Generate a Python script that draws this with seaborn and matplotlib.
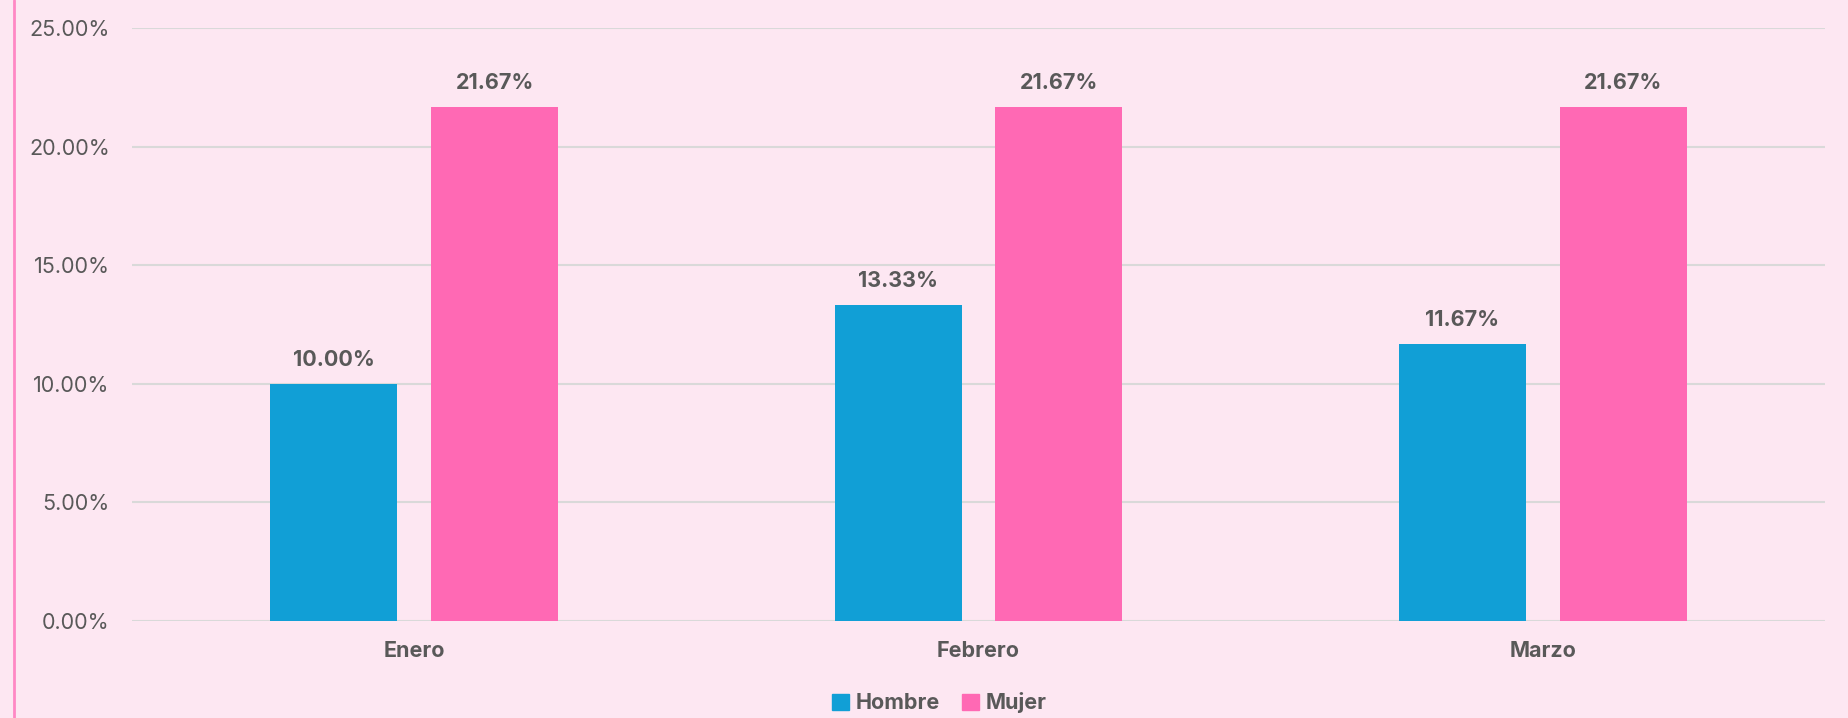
import numpy as np
import pandas as pd
import seaborn as sns
import matplotlib.pyplot as plt
from matplotlib.lines import Line2D
from matplotlib.ticker import FuncFormatter

# Data
meses = ['Enero', 'Febrero', 'Marzo']
hombre = [10.00, 13.33, 11.67]
mujer = [21.67, 21.67, 21.67]

df = pd.DataFrame({
    'Mes': meses * 2,
    'Sexo': ['Hombre'] * 3 + ['Mujer'] * 3,
    'Valor': hombre + mujer,
})

bg = '#FDE7F2'
txt = '#595959'
colors = {'Hombre': '#119FD6', 'Mujer': '#FF69B4'}

sns.set_style('white')
plt.rcParams['font.family'] = ['Inter', 'DejaVu Sans']

fig = plt.figure(figsize=(18.49, 7.18), dpi=100, facecolor=bg)
ax = fig.add_axes([0.0714, 0.135, 0.9156, 0.826])
ax.set_facecolor(bg)

sns.barplot(data=df, x='Mes', y='Valor', hue='Sexo', palette=colors,
            width=0.57, gap=0.21, saturation=1, linewidth=0, ax=ax, legend=False)

ax.set_ylim(0, 25)
ax.set_xlim(-0.5, 2.5)
ax.set_yticks(np.arange(0, 26, 5))
ax.yaxis.set_major_formatter(FuncFormatter(lambda v, p: f'{v:.2f}%'))
ax.grid(axis='y', color='#D9D9D9', linewidth=1.5)
ax.set_axisbelow(True)
for s in ax.spines.values():
    s.set_visible(False)
ax.tick_params(axis='y', length=0, pad=16, labelsize=15.5, labelcolor=txt)
ax.tick_params(axis='x', length=0, pad=14, labelsize=15.5, labelcolor=txt)
for lbl in ax.get_xticklabels():
    lbl.set_fontweight('bold')
ax.set_xlabel('')
ax.set_ylabel('')

for cont in ax.containers:
    ax.bar_label(cont, labels=[f'{v:.2f}%' for v in cont.datavalues],
                 padding=10, fontsize=15.5, fontweight='bold', color=txt)

# legend
handles = [plt.Rectangle((0, 0), 1, 1, color=colors[k]) for k in ['Hombre', 'Mujer']]
fig.legend(handles, ['Hombre', 'Mujer'], loc='center', bbox_to_anchor=(0.508, 0.021),
           ncol=2, frameon=False, handlelength=0.8, handleheight=0.8,
           handletextpad=0.3, columnspacing=1.0,
           prop={'size': 15.5, 'weight': 'bold'}, labelcolor=txt)

# pink border line at left
fig.add_artist(Line2D([14 / 1849, 14 / 1849], [0, 1], transform=fig.transFigure,
                      color='#FF88C4', linewidth=2))

fig.savefig('out.png', dpi=100, facecolor=bg)
